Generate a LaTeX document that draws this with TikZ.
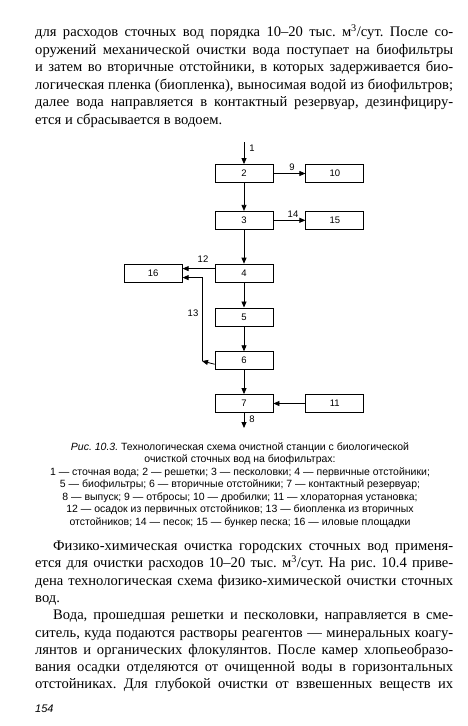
\documentclass[tikz,border=0pt]{standalone}
\usepackage{fontspec}
\setmainfont{Liberation Serif}
\setsansfont{Liberation Sans}
\usetikzlibrary{positioning, arrows.meta}
\frenchspacing

\begin{document}
\begin{tikzpicture}[x=1pt, y=-1pt,
    node distance=24pt and 32pt,
    blk/.style={draw, line width=0.8pt, minimum width=58pt, minimum height=18pt, inner sep=0pt,
      font=\sffamily\fontsize{9.5}{10}\selectfont},
    arr/.style={-{Triangle[length=6pt, width=5pt]}, line width=0.8pt},
    num/.style={font=\sffamily\fontsize{9.5}{10}\selectfont, inner sep=1pt},
    body/.style={anchor=base west, inner sep=0pt, font=\fontsize{14.6}{17}\selectfont},
    capt/.style={anchor=base, inner sep=0pt, font=\sffamily\fontsize{10.5}{12}\selectfont}]
  \useasboundingbox[fill=white] (0,0) rectangle (467,726);

  % text above the figure
  \node[body] (l1) at (35,36.5) {\makebox[418pt][s]{для расходов сточных вод порядка 10–20 тыс. м\textsuperscript{3}/сут. После со-}};
  \node[body] (l2) at (35,54) {\makebox[418pt][s]{оружений механической очистки вода поступает на биофильтры}};
  \node[body] (l3) at (35,71.5) {\makebox[418pt][s]{и затем во вторичные отстойники, в которых задерживается био-}};
  \node[body] (l4) at (35,89) {\makebox[418pt][s]{логическая пленка (биопленка), выносимая водой из биофильтров;}};
  \node[body] (l5) at (35,106.5) {\makebox[418pt][s]{далее вода направляется в контактный резервуар, дезинфициру-}};
  \node[body] (l6) at (35,124) {ется и сбрасывается в водоем.};

  % flow chart
  \node[blk] (b2) at (244,173.5) {2};
  \node[blk, below=28pt of b2] (b3) {3};
  \node[blk, below=34pt of b3] (b4) {4};
  \node[blk, below=25pt of b4] (b5) {5};
  \node[blk, below=25pt of b5] (b6) {6};
  \node[blk, below=24pt of b6] (b7) {7};
  \node[blk, right=of b2] (b10) {10};
  \node[blk, right=of b3] (b15) {15};
  \node[blk, left=of b4] (b16) {16};
  \node[blk, right=of b7] (b11) {11};
  \coordinate (in1) at (244,142);
  \coordinate (out8) at (244,428);
  \coordinate (c13) at (202,361);

  \draw[arr] (in1) -- (b2);
  \draw[arr] (b2) -- (b3);
  \draw[arr] (b3) -- (b4);
  \draw[arr] (b4) -- (b5);
  \draw[arr] (b5) -- (b6);
  \draw[arr] (b6) -- (b7);
  \draw[arr] (b7) -- (out8);
  \draw[arr] (b2) -- (b10);
  \draw[arr] (b3) -- (b15);
  \draw[arr] (b11) -- (b7);
  \draw[arr] ([yshift=4.5pt]b4.west) -- ([yshift=4.5pt]b16.east);
  \draw[arr] ([yshift=-3.5pt]b6.west) -- (c13);
  \draw[arr] (c13) |- ([yshift=-4.5pt]b16.east);

  \node[num] (n1) at (252,148) {1};
  \node[num] (n9) at (292,167) {9};
  \node[num] (n14) at (293,214) {14};
  \node[num] (n12) at (203,259) {12};
  \node[num] (n13) at (193,313) {13};
  \node[num] (n8) at (252,419) {8};

  % caption
  \node[capt] (c1) at (240,450) {\textit{Рис. 10.3.} Технологическая схема очистной станции с биологической};
  \node[capt] (c2) at (240,462.5) {очисткой сточных вод на биофильтрах:};
  \node[capt] (c3) at (240,475) {1 — сточная вода; 2 — решетки; 3 — песколовки; 4 — первичные отстойники;};
  \node[capt] (c4) at (240,487.5) {5 — биофильтры; 6 — вторичные отстойники; 7 — контактный резервуар;};
  \node[capt] (c5) at (240,500) {8 — выпуск; 9 — отбросы; 10 — дробилки; 11 — хлораторная установка;};
  \node[capt] (c6) at (240,512.5) {12 — осадок из первичных отстойников; 13 — биопленка из вторичных};
  \node[capt] (c7) at (240,525) {отстойников; 14 — песок; 15 — бункер песка; 16 — иловые площадки};

  % text below the figure
  \node[body] (m1) at (53,550.5) {\makebox[400pt][s]{Физико-химическая очистка городских сточных вод применя-}};
  \node[body] (m2) at (35,567.8) {\makebox[418pt][s]{ется для очистки расходов 10–20 тыс. м\textsuperscript{3}/сут. На рис. 10.4 приве-}};
  \node[body] (m3) at (35,585.1) {\makebox[418pt][s]{дена технологическая схема физико-химической очистки сточных}};
  \node[body] (m4) at (35,602.4) {вод.};
  \node[body] (m5) at (53,619.7) {\makebox[400pt][s]{Вода, прошедшая решетки и песколовки, направляется в сме-}};
  \node[body] (m6) at (35,637) {\makebox[418pt][s]{ситель, куда подаются растворы реагентов — минеральных коагу-}};
  \node[body] (m7) at (35,654.3) {\makebox[418pt][s]{лянтов и органических флокулянтов. После камер хлопьеобразо-}};
  \node[body] (m8) at (35,671.6) {\makebox[418pt][s]{вания осадки отделяются от очищенной воды в горизонтальных}};
  \node[body] (m9) at (35,688.9) {\makebox[418pt][s]{отстойниках. Для глубокой очистки от взвешенных веществ их}};

  \node[anchor=base west, inner sep=0pt, font=\sffamily\itshape\fontsize{11}{12}\selectfont] (pg) at (35,712) {154};
\end{tikzpicture}
\end{document}
